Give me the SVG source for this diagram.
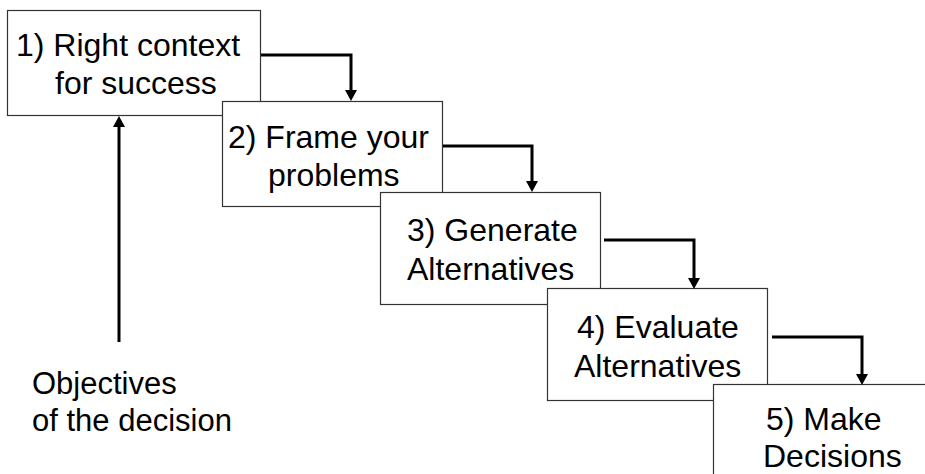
<svg xmlns="http://www.w3.org/2000/svg" width="925" height="474" viewBox="0 0 925 474">
  <style>
    .box { fill: #ffffff; stroke: #333333; stroke-width: 1.2; }
    .lbl { font-family: "Liberation Sans", Arial, sans-serif; font-size: 32px; fill: #000000; }
    .note { font-size: 31px; }
    .link { fill: none; stroke: #000000; stroke-width: 3; marker-end: url(#head); }
  </style>
  <defs>
    <marker id="head" markerUnits="userSpaceOnUse" markerWidth="12" markerHeight="12" refX="0" refY="6" orient="auto">
      <path d="M0,0 L11,6 L0,12 z" fill="#000000"/>
    </marker>
  </defs>
  <rect x="0" y="0" width="925" height="474" fill="#ffffff"/>

  <!-- process steps, each drawn over the previous one -->
  <g id="step1">
    <rect class="box" x="7.5" y="10.5" width="253" height="105"/>
    <text class="lbl" x="16" y="56">1) Right context</text>
    <text class="lbl" x="55" y="94">for success</text>
  </g>
  <g id="step2">
    <rect class="box" x="222.5" y="101.5" width="220" height="105"/>
    <text class="lbl" x="228" y="148">2) Frame your</text>
    <text class="lbl" x="268" y="186">problems</text>
  </g>
  <g id="step3">
    <rect class="box" x="380.5" y="192.5" width="220" height="112"/>
    <text class="lbl" x="407" y="241">3) Generate</text>
    <text class="lbl" x="407" y="280">Alternatives</text>
  </g>
  <g id="step4">
    <rect class="box" x="547.5" y="288.5" width="220" height="112"/>
    <text class="lbl" x="577" y="338">4) Evaluate</text>
    <text class="lbl" x="574" y="377">Alternatives</text>
  </g>
  <g id="step5">
    <rect class="box" x="713.5" y="384.5" width="240" height="110"/>
    <text class="lbl" x="766" y="430">5) Make</text>
    <text class="lbl" x="763" y="467">Decisions</text>
  </g>
  <g id="objectives">
    <text class="lbl note" x="32" y="394">Objectives</text>
    <text class="lbl note" x="32" y="431">of the decision</text>
  </g>

  <g id="connectors">
    <path class="link" d="M261,55 H351 V90"/>
    <path class="link" d="M443,146 H532 V181"/>
    <path class="link" d="M604,240 H694 V278"/>
    <path class="link" d="M772,337 H862 V374"/>
    <path class="link" d="M119,342 V127"/>
  </g>
</svg>
